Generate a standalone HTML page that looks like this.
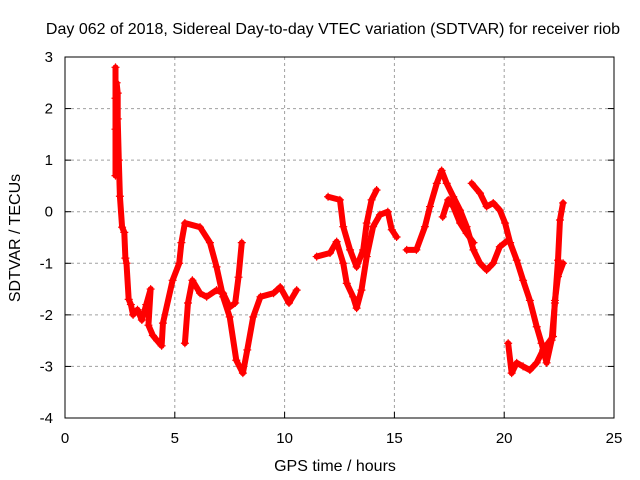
<!DOCTYPE html>
<html><head><meta charset="utf-8"><style>
body{margin:0;background:#fff}
svg{display:block;font-family:"Liberation Sans",sans-serif}
</style></head><body>
<svg id="chart" width="640" height="480">
<rect width="640" height="480" fill="#fff"/>
<text x="333" y="34" font-size="16" text-anchor="middle">Day 062 of 2018, Sidereal Day-to-day VTEC variation (SDTVAR) for receiver riob</text>
<text x="335" y="471" font-size="16" text-anchor="middle">GPS time / hours</text>
<text transform="translate(20,238) rotate(-90)" font-size="16" text-anchor="middle">SDTVAR / TECUs</text>
<g id="grid"></g><g id="ticks"></g><g id="marks"></g>
<rect x="65" y="57" width="549" height="361" fill="none" stroke="#000" stroke-width="1"/>
</svg>
<script>
const xTicks=[0,5,10,15,20,25];
const yTicks=[-4,-3,-2,-1,0,1,2,3];
const arcA=[[2.3,2.8],[2.3,2.2],[2.3,1.6],[2.3,0.7],[2.35,2.5],[2.4,2.3],[2.4,1.8],[2.45,1.0],[2.5,0.3],[2.6,-0.3],[2.7,-0.4],[2.75,-0.9],[2.8,-1.0],[2.9,-1.7],[3.0,-1.8],[3.1,-2.0],[3.3,-1.9],[3.5,-2.1],[3.7,-1.8],[3.9,-1.5],[3.8,-2.2],[4.0,-2.4],[4.2,-2.5],[4.4,-2.6],[4.46,-2.16],[4.9,-1.33],[5.2,-1.0],[5.3,-0.6],[5.46,-0.22],[6.15,-0.3],[6.6,-0.6],[6.9,-1.07],[7.2,-1.65],[7.5,-2.04],[7.8,-2.88],[8.1,-3.13],[8.3,-2.68],[8.57,-2.04],[8.9,-1.65],[9.5,-1.58],[9.8,-1.46],[10.2,-1.77],[10.55,-1.52]];
const arcC=[[5.46,-2.55],[5.6,-1.77],[5.8,-1.33],[6.15,-1.58],[6.45,-1.65],[6.9,-1.52],[7.2,-1.58],[7.5,-1.85],[7.75,-1.77],[7.9,-1.27],[8.05,-0.6]];
const arcD=[[11.46,-0.87],[12.07,-0.8],[12.37,-0.58],[12.67,-1.0],[12.83,-1.39],[13.12,-1.65],[13.28,-1.87],[13.5,-1.52],[13.74,-0.87],[14.03,-0.29],[14.34,-0.06],[14.7,0.0],[14.88,-0.35],[15.1,-0.49]];
const arcE=[[11.98,0.29],[12.52,0.23],[12.67,-0.29],[12.98,-0.74],[13.28,-1.07],[13.58,-0.74],[13.74,-0.22],[13.96,0.23],[14.19,0.42]];
const arcF=[[15.56,-0.74],[16.0,-0.74],[16.39,-0.29],[16.62,0.1],[16.93,0.55],[17.15,0.8],[17.38,0.55],[17.68,0.29],[17.99,0.03],[18.29,-0.29],[18.6,-0.74],[18.9,-1.0],[19.2,-1.13],[19.5,-1.0],[19.8,-0.68],[20.18,-0.55]];
const arcG=[[17.2,-0.1],[17.45,0.23],[17.68,0.1],[17.99,-0.22],[18.29,-0.42],[18.6,-0.6]];
const arcH=[[18.52,0.55],[18.9,0.36],[19.2,0.1],[19.5,0.17],[19.8,0.03],[20.04,-0.22],[20.27,-0.6],[20.57,-0.94],[20.86,-1.33],[21.17,-1.72],[21.48,-2.23],[21.7,-2.55],[21.93,-2.93],[22.16,-2.49],[22.31,-1.77],[22.45,-0.94],[22.54,-0.16],[22.68,0.17]];
const arcI=[[20.18,-2.55],[20.34,-3.13],[20.57,-2.93],[20.86,-3.0],[21.17,-3.07],[21.48,-2.93],[21.77,-2.68],[22.0,-2.55],[22.22,-2.42],[22.31,-1.72],[22.45,-1.26],[22.68,-1.0]];
const arcs=[arcA,arcC,arcD,arcE,arcF,arcG,arcH,arcI];
const X0=65,X1=614,Y0=418,Y1=57;
function xs(v){return X0+(v-0)/(25-0)*(X1-X0);}
function ys(v){return Y0-(v+4)/(3+4)*(Y0-Y1);}
const NS='http://www.w3.org/2000/svg';
function mk(t,a,p){const e=document.createElementNS(NS,t);for(const k in a)e.setAttribute(k,a[k]);p.appendChild(e);return e;}
const grid=document.getElementById('grid'),ticks=document.getElementById('ticks'),marks=document.getElementById('marks');
xTicks.forEach(t=>{const x=xs(t);
 if(t>0&&t<25){const g=mk('line',{x1:x,x2:x,y1:Y1,y2:Y0,stroke:'#a0a0a0','stroke-dasharray':'3,3'},grid);
 
 }
 const tk=mk('line',{x1:x,x2:x,y1:Y0,y2:Y0-6,stroke:'#000'},ticks);
 
 
 const tl=mk('text',{x:x,y:443,'font-size':15,'text-anchor':'middle'},ticks);tl.textContent=t;
 
 });
yTicks.forEach(t=>{const y=ys(t);
 if(t>-4&&t<3){const g=mk('line',{x1:X0,x2:X1,y1:y,y2:y,stroke:'#a0a0a0','stroke-dasharray':'3,3'},grid);
 
 }
 const tk=mk('line',{x1:X0,x2:X0+6,y1:y,y2:y,stroke:'#000'},ticks);
 
 
 const tk2=mk('line',{x1:X1,x2:X1-6,y1:y,y2:y,stroke:'#000'},ticks);
 
 
 const tl=mk('text',{x:53,y:y+5,'font-size':15,'text-anchor':'end'},ticks);tl.textContent=t;
 
 });
arcs.forEach((arc,i)=>{
 const pts=arc.map(p=>xs(p[0])+','+ys(p[1])).join(' ');
 const pl=mk('polyline',{points:pts,fill:'none',stroke:'#ff0000','stroke-width':6,'stroke-linejoin':'round','stroke-linecap':'round'},marks);
 
 
 arc.forEach(p=>{const x=xs(p[0]),y=ys(p[1]);
  const m=mk('path',{d:`M${x-4},${y}H${x+4}M${x},${y-4}V${y+4}`,stroke:'#ff0000','stroke-width':1.2},marks);
  
  });
});
</script>
</body></html>
